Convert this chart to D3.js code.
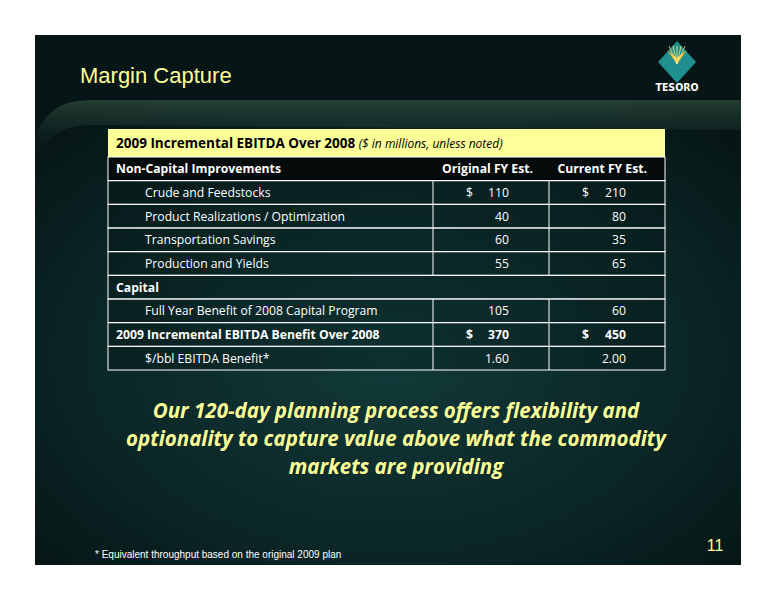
<!DOCTYPE html>
<html><head><meta charset="utf-8">
<script src="https://d3js.org/d3.v7.min.js"></script>
<style>body{margin:0;background:#fff}svg{display:block}</style>
</head><body>
<script>
const rowLabels = ["Non-Capital Improvements","Crude and Feedstocks","Product Realizations / Optimization","Transportation Savings","Production and Yields","Capital","Full Year Benefit of 2008 Capital Program","2009 Incremental EBITDA Benefit Over 2008","$/bbl EBITDA Benefit*"];
const rowTypes = ["head","item","item","item","item","section","item","total","item"];
const original = ["Original FY Est.","110","40","60","55","","105","370","1.60"];
const current = ["Current FY Est.","210","80","35","65","","60","450","2.00"];
const dollarRows = [1,7];
const messageLines = ["Our 120-day planning process offers flexibility and","optionality to capture value above what the commodity","markets are providing"];

const W=776,H=600;
const svg=d3.select("body").append("svg").attr("width",W).attr("height",H);
const defs=svg.append("defs");
const g1=defs.append("radialGradient").attr("id","bg").attr("cx","0.5").attr("cy","0.55").attr("r","0.7");
g1.append("stop").attr("offset","0").attr("stop-color","#123a3a");
g1.append("stop").attr("offset","0.6").attr("stop-color","#0b2626");
g1.append("stop").attr("offset","1").attr("stop-color","#061414");
const g2=defs.append("linearGradient").attr("id","rim").attr("x1","0").attr("y1","0").attr("x2","0").attr("y2","1");
g2.append("stop").attr("offset","0").attr("stop-color","#3a5848");
g2.append("stop").attr("offset","1").attr("stop-color","#0e2a2a").attr("stop-opacity","0");

svg.append("rect").attr("x",35).attr("y",35).attr("width",706).attr("height",530).attr("fill","#061616");
svg.append("path").attr("d","M35,130 Q45,100 90,100 L741,100 L741,565 L35,565 Z").attr("fill","url(#bg)");
svg.append("path").attr("d","M35,140 Q45,100 90,100 L741,100 L741,130 L90,125 Q50,125 35,160 Z").attr("fill","url(#rim)").attr("opacity",0.6);

svg.append("text").attr("x",80).attr("y",83).text("Margin Capture").attr("fill","#ffff99").attr("font-family","Liberation Sans, Arial").attr("font-size",22);
const lg=svg.append("g").attr("transform","translate(677,62)");
lg.append("path").attr("d","M0,-21 L19,0 L0,21 L-19,0 Z").attr("fill","#1f8f8f");
lg.append("path").attr("d","M0,2 L-10,-12 L0,-4 L10,-12 Z").attr("fill","#f6c030");
[-8,-4,0,4,8].forEach(dx=>lg.append("line").attr("x1",0).attr("y1",2).attr("x2",dx).attr("y2",-16).attr("stroke","#ffe680").attr("stroke-width",0.8));
svg.append("text").attr("x",677).attr("y",91).attr("text-anchor","middle").text("TESORO").attr("fill","#fff").attr("font-family","DejaVu Sans Condensed, DejaVu Sans").attr("font-weight","bold").attr("font-size",10.5);

const TX=108,TR=665,c1=433,c2=549;
svg.append("rect").attr("x",TX).attr("y",129).attr("width",TR-TX).attr("height",28).attr("fill","#ffff99");
const tt=svg.append("text").attr("x",116).attr("y",148).attr("font-family","Open Sans").attr("font-size",13.5).attr("fill","#000");
tt.append("tspan").attr("font-weight","bold").text("2009 Incremental EBITDA Over 2008 ");
tt.append("tspan").attr("font-style","italic").attr("font-size",12).text("($ in millions, unless noted)");

const y=d3.scaleBand().domain(d3.range(rowLabels.length)).range([157,370]);
const tg=svg.append("g").attr("font-family","Open Sans").attr("font-size",12.2);
rowLabels.forEach((lab,i)=>{
  const y0=y(i),h=y.bandwidth(),t=rowTypes[i],ty=y0+h/2+4.5;
  tg.append("rect").attr("x",TX).attr("y",y0).attr("width",TR-TX).attr("height",h).attr("fill",t==="head"?"#050a0a":"rgba(0,10,10,0.2)").attr("stroke","#fff").attr("stroke-width",1);
  const bold=(t!=="item");
  tg.append("text").attr("x",t==="item"?145:116).attr("y",ty).text(lab).attr("fill","#fff").attr("font-weight",bold?"bold":"normal");
  if(t==="section")return;
  if(t==="head"){
    tg.append("text").attr("x",533).attr("y",ty).attr("text-anchor","end").text(original[i]).attr("fill","#fff").attr("font-weight","bold");
    tg.append("text").attr("x",647).attr("y",ty).attr("text-anchor","end").text(current[i]).attr("fill","#fff").attr("font-weight","bold");
    return;
  }
  tg.append("line").attr("x1",c1).attr("x2",c1).attr("y1",y0).attr("y2",y0+h).attr("stroke","#fff");
  tg.append("line").attr("x1",c2).attr("x2",c2).attr("y1",y0).attr("y2",y0+h).attr("stroke","#fff");
  const fw=bold?"bold":"normal";
  tg.append("text").attr("x",509).attr("y",ty).attr("text-anchor","end").text(original[i]).attr("fill","#fff").attr("font-weight",fw);
  tg.append("text").attr("x",626).attr("y",ty).attr("text-anchor","end").text(current[i]).attr("fill","#fff").attr("font-weight",fw);
  if(dollarRows.includes(i)){
    tg.append("text").attr("x",466).attr("y",ty).text("$").attr("fill","#fff").attr("font-weight",fw);
    tg.append("text").attr("x",582).attr("y",ty).text("$").attr("fill","#fff").attr("font-weight",fw);
  }
});

messageLines.forEach((l,i)=>svg.append("text").attr("x",396).attr("y",418+i*28).attr("text-anchor","middle").text(l)
  .attr("fill","#ffff99").attr("font-family","Open Sans").attr("font-style","italic").attr("font-weight","bold").attr("font-size",20.5));

svg.append("text").attr("x",95).attr("y",558).text("* Equivalent throughput based on the original 2009 plan").attr("fill","#fff").attr("font-family","Liberation Sans, Arial").attr("font-size",10);
svg.append("text").attr("x",715).attr("y",551).attr("text-anchor","middle").text("11").attr("fill","#ffff99").attr("font-family","Liberation Sans, Arial").attr("font-size",16);
</script>
</body></html>
